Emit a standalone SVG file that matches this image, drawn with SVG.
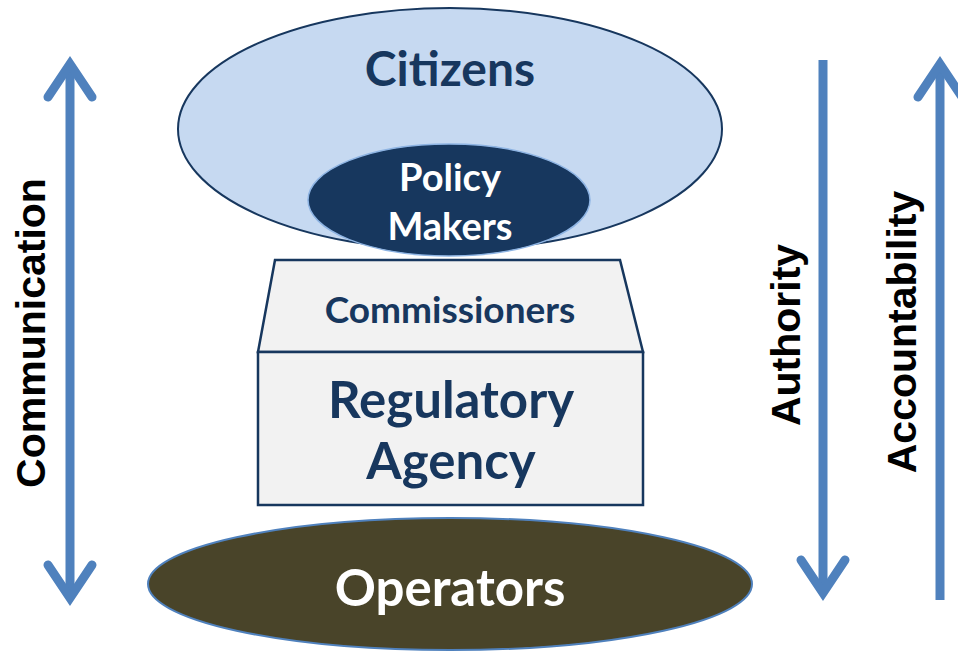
<svg xmlns="http://www.w3.org/2000/svg" width="958" height="654" viewBox="0 0 958 654">
<style>
.lbl{font-family:Lato,"Open Sans","Liberation Sans",sans-serif;font-weight:bold;text-anchor:middle}
.side{font-family:"Liberation Sans",Arial,sans-serif;font-weight:bold;font-size:41px;fill:#000;text-anchor:middle}
.shaft{stroke:#4f81bd;stroke-width:9;fill:none}
.head{stroke:#4f81bd;stroke-width:9;fill:none;stroke-linecap:round;stroke-linejoin:miter}
.box{fill:#f2f2f2;stroke:#17375e;stroke-width:2.5}
</style>
<rect width="958" height="654" fill="#fff"/>
<g id="citizens">
<ellipse cx="450" cy="129" rx="272" ry="121" fill="#c6d9f1" stroke="#17375e" stroke-width="2"/>
<text class="lbl" x="450" y="86" font-size="48" fill="#17375e">Citizens</text>
</g>
<g id="policy-makers">
<ellipse cx="449" cy="200" rx="141" ry="56" fill="#17375e" stroke="#8eb4e3" stroke-width="1.5"/>
<text class="lbl" x="450" y="191" font-size="38" fill="#fff">Policy</text>
<text class="lbl" x="450" y="240" font-size="38" fill="#fff">Makers</text>
</g>
<g id="commissioners">
<polygon class="box" points="275,260 620,260 643,352 258,352"/>
<text class="lbl" x="450" y="323" font-size="37" fill="#17375e">Commissioners</text>
</g>
<g id="regulatory-agency">
<rect class="box" x="258" y="352" width="385" height="153"/>
<text class="lbl" x="451" y="418" font-size="51" fill="#17375e">Regulatory</text>
<text class="lbl" x="451" y="479" font-size="51" fill="#17375e">Agency</text>
</g>
<g id="operators">
<ellipse cx="450" cy="584" rx="302" ry="66" fill="#494429" stroke="#4f81bd" stroke-width="2"/>
<text class="lbl" x="450" y="606" font-size="51" fill="#fff">Operators</text>
</g>
<g id="connectors">
<line class="shaft" x1="70" y1="66" x2="70" y2="596"/>
<path class="head" d="M48,97 L70,64 L92,97"/>
<path class="head" d="M48,565 L70,598 L92,565"/>
<line class="shaft" x1="823" y1="60" x2="823" y2="590"/>
<path class="head" d="M801,560 L823,593 L845,560"/>
<line class="shaft" x1="940" y1="66" x2="940" y2="600"/>
<path class="head" d="M918,97 L940,64 L962,97"/>
</g>
<g id="labels">
<text class="side" transform="translate(45,333) rotate(-90)">Communication</text>
<text class="side" transform="translate(800,335) rotate(-90)">Authority</text>
<text class="side" transform="translate(916,332) rotate(-90)">Accountability</text>
</g>
</svg>
